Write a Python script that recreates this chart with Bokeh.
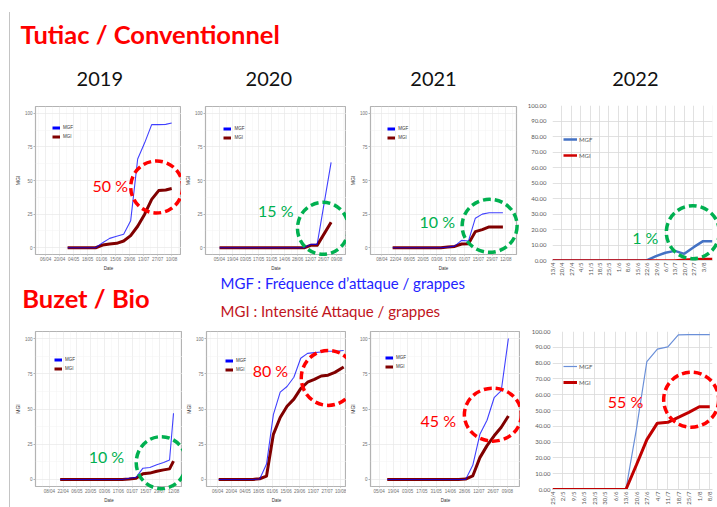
import datetime as dt
import math
from bokeh.plotting import figure
from bokeh.models import (Range1d, FixedTicker, NumeralTickFormatter, Legend, LegendItem, Div,
                          BoxAnnotation)
from bokeh.layouts import row, column
from bokeh.core.properties import value
from bokeh.embed import file_html
from bokeh.resources import INLINE

NAN = float("nan")

# ---------------------------------------------------------------- DATA
# Tutiac / Conventionnel
conv19_ticks = ["06/04", "20/04", "04/05", "18/05", "01/06", "15/06", "29/06", "13/07", "27/07", "10/08"]
conv19_dates = ["28/04", "05/05", "12/05", "19/05", "26/05", "02/06", "09/06", "16/06", "23/06", "30/06",
                "07/07", "14/07", "21/07", "28/07", "04/08", "10/08"]
conv19_mgf = [0, 0, 0, 0, 0, 3.8, 7, 8.5, 10, 20, 66, 78, 91.5, 91.5, 91.7, 92.8]
conv19_mgi = [0, 0, 0, 0, 0, 2, 2.8, 3.3, 5, 9, 16, 25, 36, 42.5, 43, 44]

conv20_ticks = ["05/04", "19/04", "03/05", "17/05", "31/05", "14/06", "28/06", "12/07", "26/07", "09/08"]
conv20_dates = ["05/04", "12/04", "19/04", "26/04", "03/05", "10/05", "17/05", "24/05", "31/05", "07/06",
                "14/06", "21/06", "28/06", "05/07", "12/07", "19/07", "03/08"]
conv20_mgf = [0, 0, 0, 0, 0, 0, 0, 0, 0, 0, 0, 0, 0, 0, 2.5, 2.5, 63.5]
conv20_mgi = [0, 0, 0, 0, 0, 0, 0, 0, 0, 0, 0, 0, 0, 0, 1.8, 1.8, 19]

conv21_ticks = ["08/04", "22/04", "06/05", "20/05", "03/06", "17/06", "01/07", "15/07", "29/07", "12/08"]
conv21_dates = ["19/04", "26/04", "03/05", "10/05", "17/05", "24/05", "31/05", "07/06", "14/06", "21/06",
                "28/06", "05/07", "12/07", "19/07", "26/07", "02/08", "09/08"]
conv21_mgf = [0, 0, 0, 0, 0, 0, 0, 0, 0.5, 1.2, 5.5, 5, 22, 25, 26, 26, 26]
conv21_mgi = [0, 0, 0, 0, 0, 0, 0, 0, 0.5, 1, 2.8, 3, 12, 13.5, 15.5, 15.5, 15.5]

conv22_cats = ["13/4", "20/4", "27/4", "4/5", "11/5", "18/5", "25/5", "1/6", "8/6", "15/6", "22/6", "29/6",
               "6/7", "13/7", "20/7", "27/7", "3/8", "10/8"]
conv22_mgf = [0, 0, 0, 0, 0, 0, 0, 0, 0, 0, 0, 2.8, 5, 6.2, 4.3, 8.6, 12.5, 12.5]
conv22_mgi = [0, 0, 0, 0, 0, 0, 0, 0, 0, 0, 0, 0, 0, 0, 0.5, 0.8, 1, 1]

# Buzet / Bio
bio19_ticks = ["08/04", "22/04", "06/05", "20/05", "03/06", "17/06", "01/07", "15/07", "29/07", "12/08"]
bio19_dates = ["19/04", "26/04", "03/05", "10/05", "17/05", "24/05", "31/05", "07/06", "14/06", "21/06",
               "28/06", "05/07", "12/07", "19/07", "26/07", "02/08", "08/08", "12/08"]
bio19_mgf = [0, 0, 0, 0, 0, 0, 0, 0, 0, 0, 0.8, 1.5, 8, 8.5, 10.5, 12, 13.8, 47]
bio19_mgi = [0, 0, 0, 0, 0, 0, 0, 0, 0, 0, 0.3, 0.8, 4, 4.5, 5.8, 6.8, 7.5, 13]

bio20_ticks = ["06/04", "20/04", "04/05", "18/05", "01/06", "15/06", "29/06", "13/07", "27/07", "10/08"]
bio20_dates = ["07/04", "14/04", "21/04", "28/04", "05/05", "12/05", "19/05", "26/05", "02/06", "09/06",
               "16/06", "23/06", "30/06", "07/07", "14/07", "21/07", "28/07", "04/08", "13/08"]
bio20_mgf = [0, 0, 0, 0, 0, 0, 0.3, 11, 46, 62, 66, 72.5, 86, 89.5, 90, 90.5, 91, 91, 91.5]
bio20_mgi = [0, 0, 0, 0, 0, 0, 0.5, 2.4, 32, 44, 52, 57, 64.5, 69, 71, 73.4, 74, 76, 79.8]

bio21_ticks = ["05/04", "19/04", "03/05", "17/05", "31/05", "14/06", "28/06", "12/07", "26/07", "09/08"]
bio21_dates = ["13/04", "20/04", "27/04", "04/05", "11/05", "18/05", "25/05", "01/06", "08/06", "15/06",
               "22/06", "29/06", "06/07", "13/07", "20/07", "27/07", "03/08", "10/08"]
bio21_mgf = [0, 0, 0, 0, 0, 0, 0, 0, 0, 0, 0, 0, 10, 32, 42, 58, 63, 100]
bio21_mgi = [0, 0, 0, 0, 0, 0, 0, 0, 0, 0, 0, 0.3, 2.5, 15.5, 24, 31, 37, 45]

bio22_cats = ["25/4", "2/5", "9/5", "16/5", "23/5", "30/5", "6/6", "13/6", "20/6", "27/6", "4/7", "11/7",
              "18/7", "25/7", "1/8", "8/8"]
bio22_mgf = [0, 0, 0, 0, 0, 0, 0, 0, 38, 81, 88.8, 90.3, 97.9, 98, 98, 98]
bio22_mgi = [0, 0, 0, 0, 0, 0, 0, 0, 15.5, 31.6, 42, 42.5, 45.7, 48.8, 52.4, 52.4]

series_names = ["MGF", "MGI"]

# ---------------------------------------------------------------- STYLE
RED = "#ff0000"
GREEN = "#00b050"
GG_FONT = "Liberation Sans"
XL_FONT = "Lato"
PCT_FONT = "Lato"


def doy(s, year):
    d, m = s.split("/")
    return (dt.date(year, int(m), int(d)) - dt.date(year, 1, 1)).days


def mapper(L, T, R, B, x0, x1, y0, y1):
    def dx(px):
        return x0 + (px - L) / (R - L) * (x1 - x0)

    def dy(py):
        return y0 + (B - py) / (B - T) * (y1 - y0)
    return dx, dy


def annotate(p, dx, dy, pct, col, pct_xy, ell):
    p.text([dx(pct_xy[0])], [dy(pct_xy[1])], text=[pct], text_align="center",
           text_baseline="middle", text_font=value(PCT_FONT), text_font_size="16px",
           text_color=col)
    p.ellipse([dx(ell[0])], [dy(ell[1])], width=ell[2], height=ell[3],
              width_units="screen", height_units="screen", fill_color=None,
              line_color=col, line_width=3.5, line_dash="8 4", level="overlay")


def gg_chart(fig_box, frame, year, ticks, tick_px, dates, mgf, mgi, leg_xy,
             pct, col, pct_xy, ell):
    fx0, fy0, fx1, fy1 = fig_box
    L, T, R, B = frame
    tdays = [doy(t, year) for t in ticks]
    k = (tick_px[1] - tick_px[0]) / (tdays[-1] - tdays[0])
    x0 = tdays[0] - (tick_px[0] - L) / k
    x1 = tdays[-1] + (R - tick_px[1]) / k
    y0, y1 = -5, 105
    p = figure(width=fx1 - fx0, height=fy1 - fy0, x_range=Range1d(x0, x1),
               y_range=Range1d(y0, y1),
               min_border_left=int(round(L - fx0)), min_border_right=int(round(fx1 - R)),
               min_border_top=int(round(T - fy0)), min_border_bottom=int(round(fy1 - B)),
               toolbar_location=None, output_backend="svg")
    p.background_fill_color = "white"
    p.border_fill_color = "white"
    p.outline_line_color = "#b3b3b3"
    p.outline_line_width = 1.2
    p.xaxis.ticker = FixedTicker(ticks=tdays, minor_ticks=[t + 7 for t in tdays] + [tdays[0] - 7])
    p.xaxis.major_label_overrides = {t: lab for t, lab in zip(tdays, ticks)}
    p.yaxis.ticker = FixedTicker(ticks=[0, 25, 50, 75, 100], minor_ticks=[12.5, 37.5, 62.5, 87.5])
    for ax in (p.xaxis[0], p.yaxis[0]):
        ax.axis_line_color = None
        ax.major_tick_line_color = "#b3b3b3"
        ax.major_tick_in = 0
        ax.minor_tick_line_color = None
        ax.minor_tick_out = 0
        ax.major_label_text_font = GG_FONT
        ax.major_label_text_font_size = "4.5px"
        ax.major_label_text_color = "#707070"
        ax.major_label_standoff = 1
        ax.axis_label_text_font = GG_FONT
        ax.axis_label_text_font_style = "normal"
        ax.axis_label_text_color = "#333333"
        ax.axis_label_standoff = 1
    p.xaxis.major_tick_out = 1
    p.yaxis.major_tick_out = 2
    p.xaxis.axis_label_text_font_size = "4.5px"
    p.yaxis.axis_label_text_font_size = "5px"
    p.xaxis.axis_label = "Date"
    p.yaxis.axis_label = "MGI"
    for g in (p.xgrid[0], p.ygrid[0]):
        g.grid_line_color = "#e8e8e8"
        g.grid_line_width = 0.7
        g.minor_grid_line_color = "#f3f3f3"
        g.minor_grid_line_width = 0.5
    xd = [doy(d, year) for d in dates]
    p.line(xd, mgi, line_color="#800000", line_width=3, line_join="round")
    p.line(xd, mgf, line_color="#0000ff", line_width=1.1, line_alpha=0.75)
    k_mgf = p.line([NAN], [NAN], line_color="#0000ff", line_width=3)
    k_mgi = p.line([NAN], [NAN], line_color="#800000", line_width=3)
    leg = Legend(items=[LegendItem(label=series_names[0], renderers=[k_mgf]),
                        LegendItem(label=series_names[1], renderers=[k_mgi])],
                 location=leg_xy, glyph_width=8, glyph_height=5, label_height=5,
                 label_standoff=3, spacing=4, padding=0, margin=0,
                 border_line_color=None, background_fill_alpha=0,
                 label_text_font=GG_FONT, label_text_font_size="4.5px",
                 label_text_color="#333333")
    p.add_layout(leg)
    dx, dy = mapper(L, T, R, B, x0, x1, y0, y1)
    annotate(p, dx, dy, pct, col, pct_xy, ell)
    return p


def xl_chart(fig_box, frame, cats, xr, n_labels, mgf, mgi, sty_f, sty_i, leg_xy, leg_sp,
             y_standoff, box, pct, col, pct_xy, ell):
    fx0, fy0, fx1, fy1 = fig_box
    L, T, R, B = frame
    p = figure(width=fx1 - fx0, height=fy1 - fy0, x_range=Range1d(*xr), y_range=Range1d(0, 100),
               min_border_left=int(round(L - fx0)), min_border_right=int(round(fx1 - R)),
               min_border_top=int(round(T - fy0)), min_border_bottom=int(round(fy1 - B)),
               toolbar_location=None, output_backend="svg")
    p.outline_line_color = None
    idx = list(range(len(cats)))
    p.xaxis.ticker = FixedTicker(ticks=idx[:n_labels])
    p.xaxis.major_label_overrides = {i: c for i, c in zip(idx, cats)}
    p.xaxis.major_label_orientation = math.pi / 2
    p.xaxis.axis_line_color = "#d9d9d9"
    p.yaxis.ticker = FixedTicker(ticks=[0, 10, 20, 30, 40, 50, 60, 70, 80, 90, 100])
    p.yaxis.formatter = NumeralTickFormatter(format="0.00")
    p.yaxis.axis_line_color = None
    for ax in (p.xaxis[0], p.yaxis[0]):
        ax.major_tick_line_color = None
        ax.major_tick_out = 0
        ax.major_tick_in = 0
        ax.minor_tick_line_color = None
        ax.minor_tick_out = 0
        ax.major_label_text_font = XL_FONT
        ax.major_label_text_font_size = "6px"
        ax.major_label_text_color = "#595959"
    p.xaxis.major_label_standoff = 2
    p.yaxis.major_label_standoff = y_standoff
    p.xgrid.ticker = FixedTicker(ticks=idx)
    p.xgrid.grid_line_color = "#d9d9d9"
    p.xgrid.grid_line_width = 0.8
    p.ygrid.grid_line_color = "#d9d9d9"
    p.ygrid.grid_line_width = 0.8
    p.line(idx, mgf, **sty_f)
    p.line(idx, mgi, **sty_i)
    k_f = p.line([NAN], [NAN], **sty_f)
    k_i = p.line([NAN], [NAN], **sty_i)
    leg = Legend(items=[LegendItem(label=series_names[0], renderers=[k_f]),
                        LegendItem(label=series_names[1], renderers=[k_i])],
                 location=leg_xy, glyph_width=14, glyph_height=8, label_height=8,
                 label_standoff=2, spacing=leg_sp, padding=0, margin=0,
                 border_line_color=None, background_fill_alpha=0,
                 label_text_font=XL_FONT, label_text_font_size="6px",
                 label_text_color="#595959")
    p.add_layout(leg)
    dx, dy = mapper(L, T, R, B, xr[0], xr[1], 0, 100)
    p.add_layout(BoxAnnotation(left=dx(box[0]), right=dx(box[2]), top=dy(box[1]),
                               bottom=dy(box[3]), fill_alpha=0, line_color="#d9d9d9",
                               line_width=1, line_alpha=1))
    annotate(p, dx, dy, pct, col, pct_xy, ell)
    return p


def header(box, items):
    x0, y0, x1, y1 = box
    p = figure(width=x1 - x0, height=y1 - y0, x_range=Range1d(x0, x1), y_range=Range1d(y1, y0),
               min_border=0, toolbar_location=None, output_backend="svg",
               x_axis_location=None, y_axis_location=None)
    p.grid.visible = False
    p.outline_line_color = None
    for txt, x, y, size, color, style, align in items:
        p.text([x], [y], text=[txt], text_font=value("Lato"), text_font_size=size,
               text_color=color, text_font_style=style, text_align=align,
               text_baseline="alphabetic")
    return p


# ---------------------------------------------------------------- FIGURES
hdrA = header((11, 0, 520, 95), [
    ("Tutiac / Conventionnel", 20, 33.5, "25.5px", "#ff0000", "bold", "left"),
    ("2019", 99.3, 78, "20px", "#111111", "normal", "center"),
    ("2020", 268.3, 78, "20px", "#111111", "normal", "center"),
    ("2021", 433, 78, "20px", "#111111", "normal", "center"),
])
hdrB = header((11, 273, 520, 322), [
    ("Buzet / Bio", 21.7, 297.5, "25.5px", "#ff0000", "bold", "left"),
    ("MGF : Fréquence d\u2019attaque /  grappes", 220, 282.5, "15px", "#2323ff", "normal", "left"),
    ("MGI : Intensité Attaque / grappes", 220, 310.5, "15px", "#c0141c", "normal", "left"),
])
hdrC = header((520, 0, 717, 95), [
    ("2022", 622, 78, "20px", "#111111", "normal", "center"),
])

c19 = gg_chart((11, 95, 181, 273), (32, 106, 181, 261), 2019, conv19_ticks, (42.3, 171),
               conv19_dates, conv19_mgf, conv19_mgi, (17, 115),
               "50 %", RED, (108.3, 189), (155.7, 190.3, 52, 52))
c20 = gg_chart((181, 95, 346, 273), (198, 104, 346, 258), 2020, conv20_ticks, (212.7, 335.7),
               conv20_dates, conv20_mgf, conv20_mgi, (18.4, 113.8),
               "15 %", GREEN, (271.7, 211.7), (321.3, 230.8, 51, 52))
c21 = gg_chart((346, 95, 520, 273), (365, 105, 516, 260), 2021, conv21_ticks, (376.7, 505),
               conv21_dates, conv21_mgf, conv21_mgi, (17.3, 114),
               "10 %", GREEN, (434, 225), (488.2, 230, 55, 53))

b19 = gg_chart((11, 322, 182, 507), (30, 330, 182, 486), 2019, bio19_ticks, (44.3, 172.7),
               bio19_dates, bio19_mgf, bio19_mgi, (19, 114.6),
               "10 %", GREEN, (103.3, 456), (160, 462, 50, 52))
b20 = gg_chart((182, 322, 346, 507), (200, 330, 346, 486), 2020, bio20_ticks, (211.7, 340),
               bio20_dates, bio20_mgf, bio20_mgi, (19, 114),
               "80 %", RED, (266.7, 369.3), (327, 376.7, 54, 55))
b21 = gg_chart((346, 322, 520, 507), (368, 331, 520, 490), 2021, bio21_ticks, (376.7, 506.7),
               bio21_dates, bio21_mgf, bio21_mgi, (15, 116.7),
               "45 %", RED, (436.7, 422.3), (492, 416.3, 57, 53))

e22c = xl_chart((520, 95, 717, 310), (547, 105, 712, 260), conv22_cats, (0, 17), 17,
                conv22_mgf, conv22_mgi,
                dict(line_color="#4472c4", line_width=2.5),
                dict(line_color="#d00000", line_width=2.5),
                (11, 101), 8, 6, (522.7, 95.5, 712.7, 300),
                "1 %", GREEN, (642.7, 237.3), (691.7, 231.7, 53, 53))
e22b = xl_chart((520, 310, 717, 507), (552, 331, 717, 489), bio22_cats, (0, 15.26),
                len(bio22_cats), bio22_mgf, bio22_mgi,
                dict(line_color="#6a8fd8", line_width=1.2),
                dict(line_color="#c00000", line_width=3),
                (11, 103), 8, 2, (527, 326, 730, 520),
                "55 %", RED, (627.3, 401), (695, 399.2, 55, 55))

strip = Div(text='<div style="margin-left:9px;margin-top:12px;width:1px;height:495px;'
                 'background:#c4c4c4"></div>', width=11, height=507, margin=0)

left_col = column(hdrA, row(c19, c20, c21), hdrB, row(b19, b20, b21))
right_col = column(hdrC, e22c, e22b)
page = row(strip, left_col, right_col)

open("out.html", "w").write(file_html(page, INLINE))
